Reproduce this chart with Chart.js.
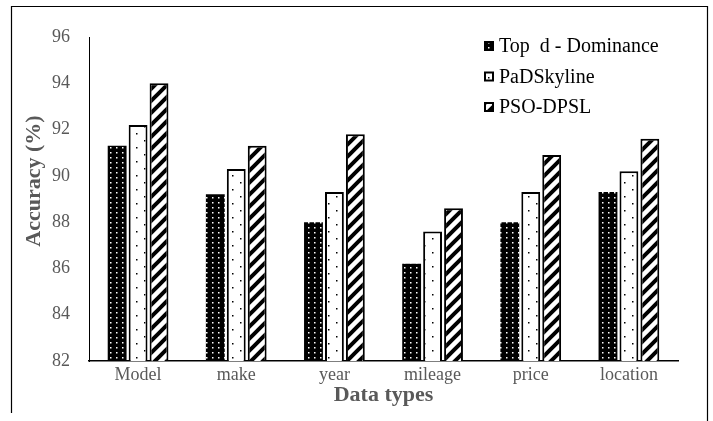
<!DOCTYPE html>
<html><head><meta charset="utf-8">
<script src="https://cdn.jsdelivr.net/npm/chart.js@4.4.1/dist/chart.umd.min.js"></script>
<style>html,body{margin:0;padding:0;background:#fff}#w{width:713px;height:421px;position:relative}</style>
</head><body><div id="w"><canvas id="c" width="713" height="421"></canvas></div>
<script>
const categories = ['Model', 'make', 'year', 'mileage', 'price', 'location'];
const seriesNames = ['Top  d - Dominance', 'PaDSkyline', 'PSO-DPSL'];
const topD = [91.3, 89.2, 88.0, 86.2, 88.0, 89.3];
const padSkyline = [92.2, 90.3, 89.3, 87.6, 89.3, 90.2];
const psoDpsl = [94.0, 91.3, 91.8, 88.6, 90.9, 91.6];
const yTicks = [82, 84, 86, 88, 90, 92, 94, 96];
const xTitle = 'Data types';
const yTitle = 'Accuracy (%)';

const FONT = '"Liberation Serif", "Times New Roman", serif';

function tile(w, h, draw) {
  const c = document.createElement('canvas');
  c.width = w; c.height = h;
  const g = c.getContext('2d');
  draw(g, w, h);
  return document.getElementById('c').getContext('2d').createPattern(c, 'repeat');
}
const patDots = tile(6, 5, (g, w, h) => {
  g.fillStyle = '#000'; g.fillRect(0, 0, w, h);
  g.fillStyle = '#fff'; g.fillRect(2, 2, 1.5, 1.5);
});
const patSparse = tile(16, 14, (g, w, h) => {
  g.fillStyle = '#fff'; g.fillRect(0, 0, w, h);
  g.fillStyle = '#000'; g.fillRect(0, 0, 1.5, 1.5); g.fillRect(8, 7, 1.5, 1.5);
});
const patStripe = tile(12, 12, (g, w, h) => {
  g.fillStyle = '#fff'; g.fillRect(0, 0, w, h);
  g.strokeStyle = '#000'; g.lineWidth = 4;
  g.beginPath();
  g.moveTo(-6, 6); g.lineTo(6, -6);
  g.moveTo(0, 12); g.lineTo(12, 0);
  g.moveTo(6, 18); g.lineTo(18, 6);
  g.stroke();
});

const decor = {
  id: 'decor',
  afterDraw(chart) {
    const ctx = chart.ctx;
    ctx.save();
    // outer frame
    ctx.strokeStyle = '#000'; ctx.lineWidth = 1.2;
    ctx.beginPath();
    ctx.moveTo(11.5, 413); ctx.lineTo(11.5, 6.5); ctx.lineTo(707.5, 6.5); ctx.lineTo(707.5, 421);
    ctx.stroke();
    // y title
    ctx.save();
    ctx.translate(34, 181);
    ctx.rotate(-Math.PI / 2);
    ctx.font = 'bold 22px ' + FONT;
    ctx.fillStyle = '#595959';
    ctx.textAlign = 'center'; ctx.textBaseline = 'middle';
    ctx.fillText(yTitle, 0, 0);
    ctx.restore();
    // legend
    const rows = [46, 76.5, 107];
    ctx.font = '20px ' + FONT;
    ctx.textAlign = 'left'; ctx.textBaseline = 'middle';
    chart.data.datasets.forEach((ds, i) => {
      const y = rows[i];
      ctx.fillStyle = ds.backgroundColor;
      ctx.fillRect(484, y - 5, 10, 10);
      ctx.strokeStyle = '#000'; ctx.lineWidth = 2;
      ctx.strokeRect(485, y - 4, 8, 8);
      ctx.fillStyle = '#000';
      ctx.fillText(ds.label, 499, y + 1);
    });
    ctx.restore();
  }
};

new Chart(document.getElementById('c'), {
  type: 'bar',
  data: {
    labels: categories,
    datasets: [
      { label: seriesNames[0], data: topD, backgroundColor: patDots, borderColor: '#000', borderWidth: 0 },
      { label: seriesNames[1], data: padSkyline, backgroundColor: patSparse, borderColor: '#000', borderWidth: 2 },
      { label: seriesNames[2], data: psoDpsl, backgroundColor: patStripe, borderColor: '#000', borderWidth: 2 }
    ]
  },
  options: {
    responsive: false,
    animation: false,
    devicePixelRatio: 1,
    categoryPercentage: 0.64,
    barPercentage: 0.9,
    layout: { padding: { top: 37, right: 35, left: 0, bottom: 0 } },
    plugins: { legend: { display: false }, tooltip: { enabled: false } },
    scales: {
      x: {
        grid: { display: false, drawTicks: false },
        border: { display: true, color: '#000', width: 1.5 },
        ticks: { color: '#595959', font: { family: FONT, size: 18 }, padding: 3 },
        title: { display: true, text: xTitle, color: '#595959', font: { family: FONT, size: 22, weight: 'bold' }, padding: { top: 0, bottom: 12 } },
        afterFit(s) { s.height = 60; }
      },
      y: {
        min: yTicks[0], max: yTicks[yTicks.length - 1],
        grid: { display: false, drawTicks: false },
        border: { display: true, color: '#000', width: 1 },
        ticks: { stepSize: 2, color: '#595959', font: { family: FONT, size: 18 }, padding: 19 },
        afterFit(s) { s.width = 89; }
      }
    }
  },
  plugins: [decor]
});
</script>
</body></html>
